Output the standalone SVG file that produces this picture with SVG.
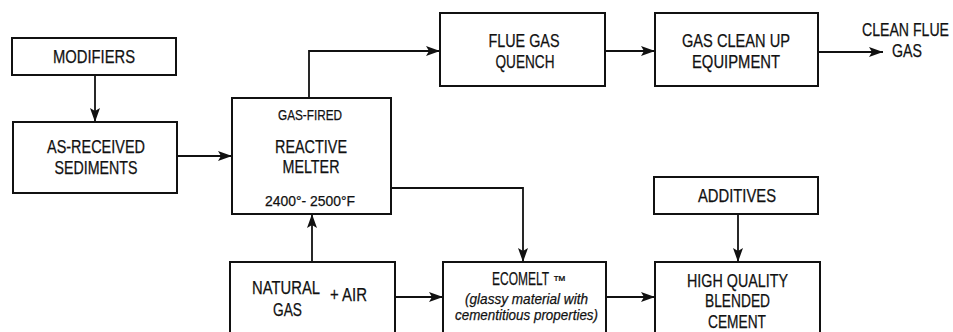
<svg xmlns="http://www.w3.org/2000/svg" width="953" height="332" viewBox="0 0 953 332">
<style>
.box{fill:#fff;stroke:#111;stroke-width:2}
.ln{fill:none;stroke:#111;stroke-width:1.8}
.arr{marker-end:url(#ah)}
text{font-family:"Liberation Sans",Arial,sans-serif;font-size:18px;fill:#111;stroke:#111;stroke-width:0.25}
.c{text-anchor:middle}
.sm{font-size:14px}
.it{font-style:italic;font-size:15px}
</style>
<defs>
<marker id="ah" markerUnits="userSpaceOnUse" markerWidth="15" markerHeight="11" refX="14" refY="5.5" orient="auto">
<path d="M0,0.5 L14,5.5 L0,10.5 L3,5.5 Z" fill="#111"/>
</marker>
</defs>
<rect width="953" height="332" fill="#fff"/>
<g id="connectors">
<path class="ln arr" d="M95,75 V122"/>
<path class="ln arr" d="M177,156 H232"/>
<path class="ln arr" d="M309,98 V51 H440"/>
<path class="ln arr" d="M605,51 H655"/>
<path class="ln arr" d="M818,52 H883"/>
<path class="ln arr" d="M391,188 H523 V262"/>
<path class="ln arr" d="M312,262 V214"/>
<path class="ln arr" d="M395,297 H443"/>
<path class="ln arr" d="M606,297 H655"/>
<path class="ln arr" d="M738,214 V262"/>
</g>
<g id="modifiers">
<rect class="box" x="12" y="38" width="164" height="37"/>
<text class="c" x="94" y="63" textLength="82" lengthAdjust="spacingAndGlyphs">MODIFIERS</text>
</g>
<g id="sediments">
<rect class="box" x="13" y="122" width="164" height="71"/>
<text class="c" x="96" y="153" textLength="98" lengthAdjust="spacingAndGlyphs">AS-RECEIVED</text>
<text class="c" x="96" y="174" textLength="83" lengthAdjust="spacingAndGlyphs">SEDIMENTS</text>
</g>
<g id="melter">
<rect class="box" x="232" y="98" width="159" height="116"/>
<text class="c sm" x="310" y="120" textLength="64" lengthAdjust="spacingAndGlyphs">GAS-FIRED</text>
<text class="c" x="311" y="153" textLength="72" lengthAdjust="spacingAndGlyphs">REACTIVE</text>
<text class="c" x="311" y="173" textLength="57" lengthAdjust="spacingAndGlyphs">MELTER</text>
<text class="c" x="310" y="206" style="font-size:15px" textLength="90" lengthAdjust="spacingAndGlyphs">2400°- 2500°F</text>
</g>
<g id="quench">
<rect class="box" x="440" y="13" width="165" height="73"/>
<text class="c" x="524" y="47" textLength="71" lengthAdjust="spacingAndGlyphs">FLUE GAS</text>
<text class="c" x="525" y="68" textLength="59" lengthAdjust="spacingAndGlyphs">QUENCH</text>
</g>
<g id="cleanup">
<rect class="box" x="655" y="13" width="163" height="73"/>
<text class="c" x="736" y="47" textLength="108" lengthAdjust="spacingAndGlyphs">GAS CLEAN UP</text>
<text class="c" x="736" y="68" textLength="88" lengthAdjust="spacingAndGlyphs">EQUIPMENT</text>
</g>
<g id="cleanflue">
<text x="949" y="36" text-anchor="end" textLength="87" lengthAdjust="spacingAndGlyphs">CLEAN FLUE</text>
<text x="892" y="57" textLength="30" lengthAdjust="spacingAndGlyphs">GAS</text>
</g>
<g id="additives">
<rect class="box" x="654" y="177" width="164" height="37"/>
<text class="c" x="737" y="202" textLength="78" lengthAdjust="spacingAndGlyphs">ADDITIVES</text>
</g>
<g id="naturalgas">
<rect class="box" x="230" y="262" width="165" height="80"/>
<text class="c" x="286" y="294" textLength="68" lengthAdjust="spacingAndGlyphs">NATURAL</text>
<text class="c" x="287.5" y="316" textLength="29" lengthAdjust="spacingAndGlyphs">GAS</text>
<text x="330" y="301" textLength="37" lengthAdjust="spacingAndGlyphs">+ AIR</text>
</g>
<g id="ecomelt">
<rect class="box" x="443" y="262" width="163" height="80"/>
<text x="492" y="285"><tspan textLength="57" lengthAdjust="spacingAndGlyphs">ECOMELT</tspan><tspan dx="4" style="font-size:13px">™</tspan></text>
<text class="c it" x="526.5" y="304" textLength="123" lengthAdjust="spacingAndGlyphs">(glassy material with</text>
<text class="c it" x="526.5" y="320" textLength="143" lengthAdjust="spacingAndGlyphs">cementitious properties)</text>
</g>
<g id="cement">
<rect class="box" x="655" y="262" width="165" height="80"/>
<text class="c" x="737.5" y="287" textLength="101" lengthAdjust="spacingAndGlyphs">HIGH QUALITY</text>
<text class="c" x="737.5" y="307" textLength="65" lengthAdjust="spacingAndGlyphs">BLENDED</text>
<text class="c" x="737" y="328" textLength="58" lengthAdjust="spacingAndGlyphs">CEMENT</text>
</g>
</svg>
